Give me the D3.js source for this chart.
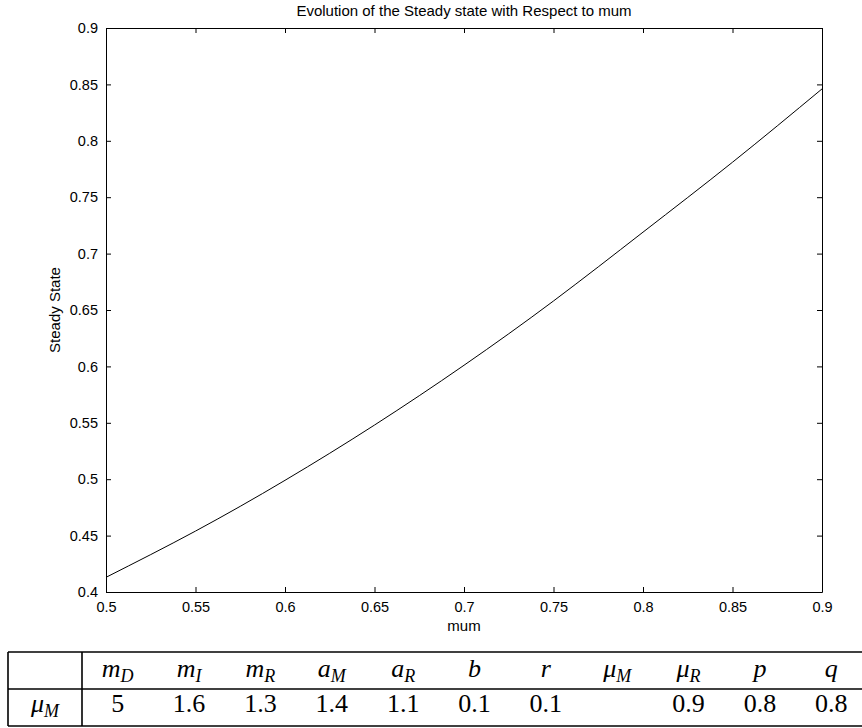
<!DOCTYPE html>
<html>
<head>
<meta charset="utf-8">
<script src="https://cdn.jsdelivr.net/npm/d3@7"></script>
<style>
  body { margin: 0; background: #fff; }
  svg { display: block; }
</style>
</head>
<body>
<svg id="chart" width="862" height="728"></svg>
<script>
// curve values (steady state vs mum)
const mumValues = [0.5, 0.55, 0.6, 0.65, 0.7, 0.75, 0.8, 0.85, 0.9];
const steadyValues = [0.413, 0.454, 0.499, 0.548, 0.601, 0.658, 0.719, 0.781, 0.846];

const xTicks = [0.5, 0.55, 0.6, 0.65, 0.7, 0.75, 0.8, 0.85, 0.9];
const xTickLabels = ['0.5', '0.55', '0.6', '0.65', '0.7', '0.75', '0.8', '0.85', '0.9'];
const yTicks = [0.4, 0.45, 0.5, 0.55, 0.6, 0.65, 0.7, 0.75, 0.8, 0.85, 0.9];
const yTickLabels = ['0.4', '0.45', '0.5', '0.55', '0.6', '0.65', '0.7', '0.75', '0.8', '0.85', '0.9'];

// parameter table: [base, subscript]
const paramNames = [['m', 'D'], ['m', 'I'], ['m', 'R'], ['a', 'M'], ['a', 'R'], ['b', ''], ['r', ''],
    ['\u03bc', 'M'], ['\u03bc', 'R'], ['p', ''], ['q', '']];
const paramValues = ['5', '1.6', '1.3', '1.4', '1.1', '0.1', '0.1', '', '0.9', '0.8', '0.8'];
const rowLabel = ['\u03bc', 'M'];

const svg = d3.select('#chart');
const plot = { left: 106, right: 822, top: 28, bottom: 592 };

const x = d3.scaleLinear().domain([0.5, 0.9]).range([plot.left, plot.right]);
const y = d3.scaleLinear().domain([0.4, 0.9]).range([plot.bottom, plot.top]);

const sans = 'Liberation Sans, Arial, Helvetica, sans-serif';
const serif = 'Liberation Serif, Times New Roman, serif';

// axes with inward ticks, box on all four sides
const tick = 5;
svg.append('g')
    .attr('transform', `translate(0,${plot.bottom})`)
    .call(d3.axisBottom(x).tickValues(xTicks).tickSizeInner(-tick).tickSizeOuter(0).tickPadding(10)
        .tickFormat((d, i) => xTickLabels[i]));
svg.append('g')
    .attr('transform', `translate(0,${plot.top})`)
    .call(d3.axisTop(x).tickValues(xTicks).tickSizeInner(-tick).tickSizeOuter(0).tickFormat(''));
svg.append('g')
    .attr('transform', `translate(${plot.left},0)`)
    .call(d3.axisLeft(y).tickValues(yTicks).tickSizeInner(-tick).tickSizeOuter(0).tickPadding(8)
        .tickFormat((d, i) => yTickLabels[i]));
svg.append('g')
    .attr('transform', `translate(${plot.right},0)`)
    .call(d3.axisRight(y).tickValues(yTicks).tickSizeInner(-tick).tickSizeOuter(0).tickFormat(''));

svg.selectAll('.tick text')
    .attr('font-family', sans)
    .attr('font-size', 14.5)
    .attr('fill', '#000');
svg.selectAll('.tick line').attr('stroke', '#000');
svg.selectAll('.domain').attr('stroke', '#000');

// the curve
const line = d3.line()
    .x((d, i) => x(mumValues[i]))
    .y(d => y(d))
    .curve(d3.curveNatural);

svg.append('path')
    .datum(steadyValues)
    .attr('d', line)
    .attr('fill', 'none')
    .attr('stroke', '#000')
    .attr('stroke-width', 1);

// titles
svg.append('text')
    .attr('x', (plot.left + plot.right) / 2)
    .attr('y', 16)
    .attr('text-anchor', 'middle')
    .attr('font-family', sans)
    .attr('font-size', 15)
    .text('Evolution of the Steady state with Respect to mum');

svg.append('text')
    .attr('x', (plot.left + plot.right) / 2)
    .attr('y', 631)
    .attr('text-anchor', 'middle')
    .attr('font-family', sans)
    .attr('font-size', 15)
    .text('mum');

svg.append('text')
    .attr('transform', `translate(60,${(plot.top + plot.bottom) / 2}) rotate(-90)`)
    .attr('text-anchor', 'middle')
    .attr('font-family', sans)
    .attr('font-size', 15)
    .text('Steady State');

// parameter table below the plot
const table = { left: 8, split: 82, right: 867, top: 652, mid: 689, bottom: 726 };
const col = d3.scaleBand().domain(d3.range(paramNames.length)).range([table.split, table.right]);

const tg = svg.append('g');
[table.top, table.mid, table.bottom].forEach(ty => {
    tg.append('line')
        .attr('x1', table.left).attr('x2', table.right)
        .attr('y1', ty).attr('y2', ty)
        .attr('stroke', '#000').attr('stroke-width', 1.6);
});
[table.left, table.split].forEach(tx => {
    tg.append('line')
        .attr('x1', tx).attr('x2', tx)
        .attr('y1', table.top).attr('y2', table.bottom)
        .attr('stroke', '#000').attr('stroke-width', 1.6);
});

function mathText(sel, parts) {
    sel.append('tspan').attr('font-style', 'italic').text(parts[0]);
    if (parts[1]) {
        sel.append('tspan')
            .attr('font-style', 'italic')
            .attr('font-size', 18)
            .attr('dy', 5)
            .text(parts[1]);
    }
}

tg.selectAll('text.head')
    .data(paramNames)
    .enter()
    .append('text')
    .attr('class', 'head')
    .attr('x', (d, i) => col(i) + col.bandwidth() / 2)
    .attr('y', 677)
    .attr('text-anchor', 'middle')
    .attr('font-family', serif)
    .attr('font-size', 26)
    .each(function (d) { mathText(d3.select(this), d); });

tg.selectAll('text.val')
    .data(paramValues)
    .enter()
    .append('text')
    .attr('class', 'val')
    .attr('x', (d, i) => col(i) + col.bandwidth() / 2)
    .attr('y', 712)
    .attr('text-anchor', 'middle')
    .attr('font-family', serif)
    .attr('font-size', 26)
    .text(d => d);

tg.append('text')
    .attr('x', (table.left + table.split) / 2)
    .attr('y', 712)
    .attr('text-anchor', 'middle')
    .attr('font-family', serif)
    .attr('font-size', 26)
    .call(sel => mathText(sel, rowLabel));
</script>
</body>
</html>
